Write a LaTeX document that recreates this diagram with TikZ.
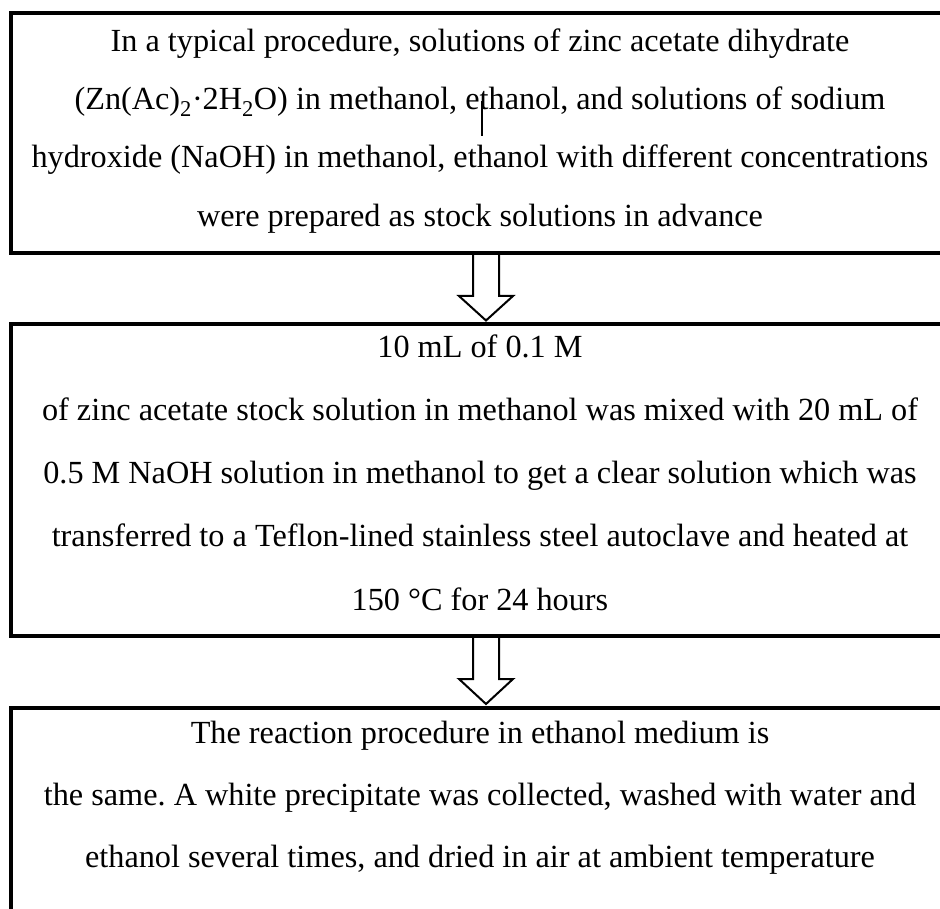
\documentclass[tikz,border=0pt]{standalone}
\usepackage{fontspec}
\setmainfont{Liberation Serif}
\usetikzlibrary{calc}
\begin{document}
\frenchspacing
\begin{tikzpicture}[x=1pt,y=-1pt,
  box/.style={draw, line width=4pt, minimum width=950pt, inner sep=0pt, anchor=north west},
  txt/.style={anchor=base, inner sep=0pt, font=\fontsize{32.25}{38}\selectfont},
  blockarrow/.style={draw, line width=2pt, line join=miter}]
\clip (0,0) rectangle (940,909);
\fill[white] (0,0) rectangle (940,909);
% boxes
\node[box, minimum height=240pt] (b1) at (9,11) {};
\node[box, minimum height=311.5pt] (b2) at (9,322.5) {};
\node[box, minimum height=204pt] (b3) at (9,706) {};
% box 1 text
\node[txt] (t11) at (480,52) {In a typical procedure, solutions of zinc acetate dihydrate};
\node[txt] (t12) at (480,110) {(Zn(Ac)\textsubscript{2}·2H\textsubscript{2}O) in methanol, ethanol, and solutions of sodium};
\node[txt] (t13) at (480,168) {hydroxide (NaOH) in methanol, ethanol with different concentrations};
\node[txt] (t14) at (480,227) {were prepared as stock solutions in advance};
\draw[line width=1.2pt] (482,101) -- (482,136);
% box 2 text
\node[txt] (t21) at (480,358) {10 mL of 0.1 M};
\node[txt] (t22) at (480,420) {of zinc acetate stock solution in methanol was mixed with 20 mL of};
\node[txt] (t23) at (480,483) {0.5 M NaOH solution in methanol to get a clear solution which was};
\node[txt] (t24) at (480,546) {transferred to a Teflon-lined stainless steel autoclave and heated at};
\node[txt] (t25) at (480,610) {150 °C for 24 hours};
% box 3 text
\node[txt] (t31) at (480,743) {The reaction procedure in ethanol medium is};
\node[txt] (t32) at (480,805) {the same. A white precipitate was collected, washed with water and};
\node[txt] (t33) at (480,867) {ethanol several times, and dried in air at ambient temperature};
% block arrows
\draw[blockarrow] ($(b1.south)+(-13,0)$) -- ++(0,41) -- ++(-14,0) -- ($(b2.north)+(0,-2)$)
  -- ($(b1.south)+(27,41)$) -- ++(-14,0) -- ($(b1.south)+(13,0)$);
\draw[blockarrow] ($(b2.south)+(-13,0)$) -- ++(0,41) -- ++(-14,0) -- ($(b3.north)+(0,-2)$)
  -- ($(b2.south)+(27,41)$) -- ++(-14,0) -- ($(b2.south)+(13,0)$);
\end{tikzpicture}
\end{document}
